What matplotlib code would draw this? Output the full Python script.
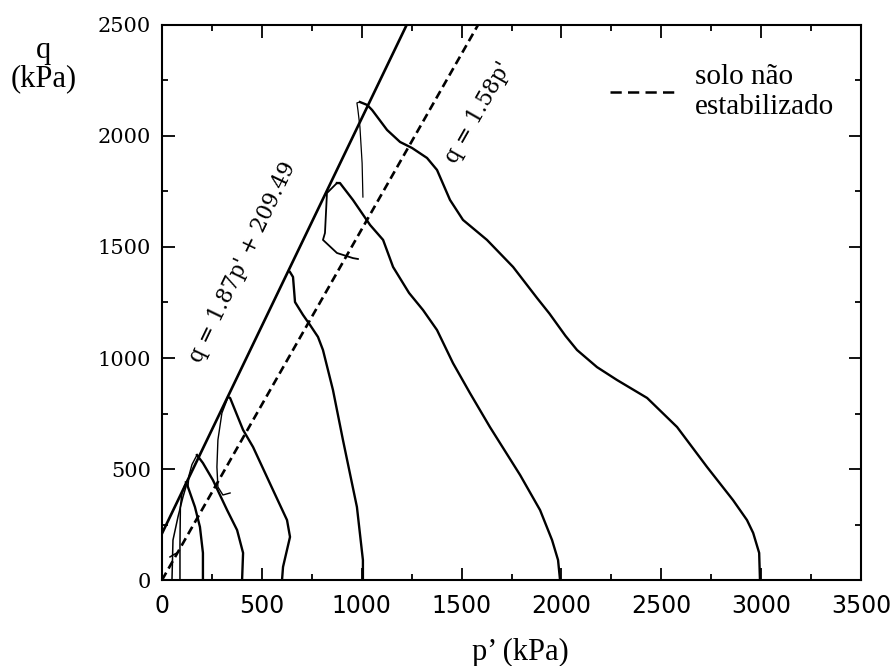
import numpy as np
import matplotlib.pyplot as plt
from matplotlib.lines import Line2D
from matplotlib.ticker import MultipleLocator

# stress paths p' (kPa), q (kPa)
path_3000_p = [2994, 2990, 2960, 2929, 2859, 2729, 2579, 2429, 2278, 2178, 2078, 2020, 1940, 1878, 1758, 1627, 1507, 1442, 1377, 1327, 1252, 1192, 1127, 1052, 1027, 991]
path_3000_q = [0, 122, 212, 270, 360, 509, 689, 820, 901, 959, 1036, 1100, 1200, 1270, 1410, 1532, 1622, 1712, 1847, 1901, 1946, 1973, 2027, 2117, 2140, 2153]
hook_3000_p = [991, 976, 981, 991, 1002, 1006]
hook_3000_q = [2153, 2149, 2117, 2041, 1878, 1725]

path_2000_p = [1993, 1983, 1953, 1893, 1793, 1642, 1542, 1457, 1377, 1307, 1237, 1157, 1107, 1042, 956, 891, 876]
path_2000_q = [0, 90, 180, 315, 473, 689, 842, 977, 1126, 1216, 1293, 1410, 1532, 1599, 1712, 1788, 1788]
hook_2000_p = [876, 826, 816, 806, 876, 956, 981]
hook_2000_q = [1788, 1743, 1563, 1532, 1473, 1450, 1446]

path_1000_p = [1006, 1006, 976, 906, 856, 806, 781, 741, 706, 666, 656, 641]
path_1000_q = [0, 90, 329, 631, 856, 1036, 1095, 1149, 1194, 1252, 1365, 1387]

path_600_p = [601, 606, 641, 626, 556, 456, 406, 341, 331]
path_600_q = [0, 59, 194, 270, 405, 599, 676, 820, 824]
hook_600_p = [331, 300, 280, 275, 280, 305, 341]
hook_600_q = [824, 752, 631, 509, 419, 383, 392]

path_400_p = [401, 406, 376, 326, 255, 205, 175]
path_400_q = [0, 122, 225, 315, 450, 527, 563]
hook_400_p = [175, 150, 135, 130]
hook_400_q = [563, 520, 470, 420]

path_200_p = [205, 205, 190, 165, 130, 120]
path_200_q = [0, 122, 239, 329, 419, 440]

path_100_p = [90, 90, 92, 100, 115]
path_100_q = [0, 160, 329, 390, 430]

path_50_p = [50, 55, 80, 105, 120]
path_50_q = [0, 180, 284, 374, 420]
hook_50_p = [40, 60, 75]
hook_50_q = [104, 115, 122]

# failure envelopes
env_stab_a, env_stab_b = 1.87, 209.49
env_unstab_a = 1.58

fig = plt.figure(figsize=(8.93, 6.66), dpi=100)
ax = fig.add_axes([0.1814, 0.1291, 0.7828, 0.8334])
ax.set_xlim(0, 3500)
ax.set_ylim(0, 2500)

lw = 1.7
k = 'black'
ax.plot(path_3000_p, path_3000_q, color=k, lw=lw)
ax.plot(hook_3000_p, hook_3000_q, color=k, lw=0.9)
ax.plot(path_2000_p, path_2000_q, color=k, lw=lw)
ax.plot(hook_2000_p, hook_2000_q, color=k, lw=1.3)
ax.plot(path_1000_p, path_1000_q, color=k, lw=lw)
ax.plot(path_600_p, path_600_q, color=k, lw=lw)
ax.plot(hook_600_p, hook_600_q, color=k, lw=1.0)
ax.plot(path_400_p, path_400_q, color=k, lw=lw)
ax.plot(hook_400_p, hook_400_q, color=k, lw=1.0)
ax.plot(path_200_p, path_200_q, color=k, lw=lw)
ax.plot(path_100_p, path_100_q, color=k, lw=1.1)
ax.plot(path_50_p, path_50_q, color=k, lw=1.1)
ax.plot(hook_50_p, hook_50_q, color=k, lw=1.1)

p1 = np.array([0, (2500 - env_stab_b) / env_stab_a])
ax.plot(p1, env_stab_a * p1 + env_stab_b, color=k, lw=1.9)
p2 = np.array([0, 2500 / env_unstab_a])
ax.plot(p2, env_unstab_a * p2, color=k, lw=1.9, dashes=(3.2, 1.8))

# rotate labels to follow the lines on screen
def screen_angle(slope):
    a = ax.transData.transform((0, 0))
    b = ax.transData.transform((1000, 1000 * slope))
    return np.degrees(np.arctan2(b[1] - a[1], b[0] - a[0]))

ax.text(405, 1430, "q = 1.87p' + 209.49", rotation=screen_angle(env_stab_a),
        ha='center', va='center', fontsize=15.5, family='DejaVu Serif', rotation_mode='anchor')
ax.text(1585, 2105, "q = 1.58p'", rotation=screen_angle(env_unstab_a),
        ha='center', va='center', fontsize=15.5, family='DejaVu Serif', rotation_mode='anchor')

handle = Line2D([], [], color=k, lw=1.8, dashes=(4.5, 2.5))
ax.legend([handle], ["solo não\nestabilizado"], loc='center left',
          bbox_to_anchor=(0.641, 0.879), frameon=False, borderpad=0,
          borderaxespad=0, handlelength=2.3, handletextpad=0.6,
          prop={'family': 'Liberation Serif', 'size': 21})

ax.xaxis.set_major_locator(MultipleLocator(500))
ax.xaxis.set_minor_locator(MultipleLocator(250))
ax.yaxis.set_major_locator(MultipleLocator(500))
ax.yaxis.set_minor_locator(MultipleLocator(250))
ax.tick_params(which='both', direction='in', top=True, right=True, width=1.3)
ax.tick_params(which='major', length=9)
ax.tick_params(which='minor', length=4.5)
ax.tick_params(axis='x', pad=10)
ax.tick_params(axis='y', pad=8)
for t in ax.get_xticklabels():
    t.set_family('DejaVu Sans')
    t.set_fontsize(17)
for t in ax.get_yticklabels():
    t.set_family('DejaVu Serif')
    t.set_fontsize(15)
for s in ax.spines.values():
    s.set_linewidth(1.5)

ax.set_xlabel("p\u2019 (kPa)", family='Liberation Serif', fontsize=22)
ax.xaxis.set_label_coords(0.512, -0.105)
ax.set_ylabel("q\n(kPa)", family='Liberation Serif', fontsize=22, rotation=0,
              ha='center', va='center', linespacing=0.95)
ax.yaxis.set_label_coords(-0.169, 0.928)

fig.savefig('out.png', dpi=100)
